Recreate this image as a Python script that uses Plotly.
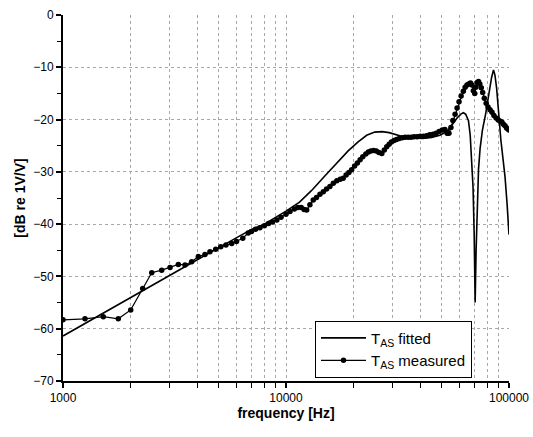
import plotly.graph_objects as go

# Fitted transfer function T_AS (frequency in Hz, level in dB re 1V/V)
fit_freq = [1000, 1500, 2000, 2500, 3000, 4000, 5000, 6000, 7000, 8000, 9000,
            10000, 11500, 13000, 15000, 17000, 19000, 21000, 23000, 25000, 27000,
            29000, 31000, 33500, 37000, 41000, 45000, 49000, 53000, 56000, 58500,
            61000, 62500, 64000, 65800, 67000, 68000, 69000, 69800, 70500, 71200,
            72000, 73000, 74200, 76000, 78500, 81000, 83500, 85200, 86500, 88000,
            90000, 92000, 94000, 96000, 98000, 100000]
fit_db = [-61.4, -57.1, -54.1, -51.8, -49.9, -46.8, -44.5, -42.6, -41.0, -40.0, -38.7,
          -37.5, -35.8, -33.6, -30.7, -28.2, -26.0, -24.3, -23.0, -22.4, -22.3,
          -22.5, -22.9, -23.3, -23.5, -23.6, -23.4, -23.0, -22.2, -20.8, -19.7,
          -18.9, -18.7, -19.0, -20.2, -23.0, -27.0, -33.0, -42.0, -55.0, -45.0,
          -35.0, -29.5, -25.5, -22.0, -19.0, -15.0, -12.0, -10.5, -11.5, -14.0,
          -19.5, -24.0, -27.5, -31.0, -36.0, -42.0]

# Measured transfer function T_AS
meas_freq = [1000, 1255, 1516, 1770, 2012, 2277, 2500, 2770, 3020, 3290, 3525, 3775,
             4045, 4330, 4560, 4840, 5100, 5380, 5710, 6000, 6400, 6770,
             7000, 7300, 7640, 8000, 8350, 8700, 9100, 9500, 10000, 10420, 10900,
             11300, 11700, 12050, 12380, 12800, 13250, 13700, 14200, 14700, 15200,
             15740, 16300, 16900, 17500, 18050, 18600, 19150, 19700, 20300, 20900,
             21500, 22100, 22800, 23400, 24000, 24700, 25400, 26100, 26900, 27600,
             28300, 29000, 29700, 30500, 31300, 32200, 33200, 34200, 35300, 36400,
             37500, 38700, 40000, 41300, 42700, 44100, 45600, 47100, 48600, 50200,
             51600, 52800, 53800, 54900, 56000, 57300, 58500, 59700, 61000, 62400,
             63600, 64800, 66000, 67200, 68200, 69200, 70200, 71000, 72000, 73000,
             74000, 75100, 76200, 77500, 79000, 80500, 82200, 83900, 85600, 87500,
             89500, 91400, 93000, 94400, 96000, 97500, 99000, 100000]
meas_db = [-58.3, -58.1, -57.7, -58.1, -56.4, -52.3, -49.3, -48.8, -48.3, -47.7, -47.8, -47.2,
           -46.2, -45.8, -45.3, -44.8, -44.3, -44.0, -43.7, -43.3, -42.7, -41.7,
           -41.4, -41.0, -40.7, -40.3, -39.9, -39.6, -39.2, -38.7, -38.1, -37.6, -37.1,
           -36.8, -36.8, -37.2, -37.3, -36.3, -35.4, -34.9, -34.3, -33.8, -33.3,
           -32.8, -32.2, -31.7, -31.4, -31.2, -30.6, -30.1, -29.6, -28.9, -28.3,
           -27.7, -27.1, -26.6, -26.2, -26.0, -25.9, -26.0, -26.3, -26.5, -25.8,
           -25.2, -24.7, -24.3, -24.0, -23.8, -23.6, -23.5, -23.4, -23.4, -23.4,
           -23.3, -23.3, -23.2, -23.2, -23.1, -22.9, -22.8, -22.6, -22.3, -22.0,
           -21.9, -22.6, -22.6, -21.5, -20.2, -19.0, -17.8, -16.6, -15.5, -14.6,
           -13.8, -13.4, -13.2, -13.0, -13.4, -14.5, -15.0, -13.8, -12.9, -12.7,
           -13.2, -13.9, -14.8, -15.9, -16.9, -17.6, -18.1, -18.6, -19.2, -19.7,
           -20.1, -20.3, -20.5, -20.9, -21.2, -21.6, -21.8, -22.0]

x_tickvals = [1000, 10000, 100000]
x_ticktext = ["1000", "10000", "100000"]

font_family = "Liberation Sans, Arial, sans-serif"

fig = go.Figure()
fig.add_trace(go.Scatter(
    x=fit_freq, y=fit_db, mode="lines", name="T<sub>AS</sub> fitted",
    line=dict(color="black", width=1.6),
))
fig.add_trace(go.Scatter(
    x=meas_freq, y=meas_db, mode="lines+markers", name="T<sub>AS</sub> measured",
    line=dict(color="black", width=1.2),
    marker=dict(symbol="circle", size=5.5, color="black"),
))

grid = dict(showgrid=True, gridcolor="#a8a8a8", gridwidth=1, griddash="dot")

fig.update_layout(
    width=533, height=437,
    margin=dict(l=63, r=24, t=15, b=56, autoexpand=False),
    paper_bgcolor="white", plot_bgcolor="white",
    font=dict(family=font_family, size=12, color="black"),
    showlegend=True,
    legend=dict(
        x=0.565, y=0.165, xanchor="left", yanchor="top",
        bgcolor="white", bordercolor="black", borderwidth=1,
        font=dict(size=15, color="black"),
        tracegroupgap=0, itemwidth=45,
    ),
    xaxis=dict(
        type="log", range=[3, 5], automargin=False,
        tickvals=x_tickvals, ticktext=x_ticktext,
        ticks="outside", ticklen=5, tickwidth=1.5, tickcolor="black",
        showline=True, linecolor="black", linewidth=2,
        zeroline=False,
        minor=dict(ticks="outside", ticklen=5, tickwidth=1.2, tickcolor="black",
                   dtick="D1", **grid),
        **grid,
        title=dict(text="frequency [Hz]", standoff=0,
                   font=dict(size=14, weight="bold")),
    ),
    yaxis=dict(
        range=[-70, 0], dtick=10, automargin=False,
        ticks="outside", ticklen=5, tickwidth=1.5, tickcolor="black",
        showline=True, linecolor="black", linewidth=2,
        zeroline=False,
        minor=dict(ticks="outside", ticklen=4, tickwidth=1.2, tickcolor="black",
                   dtick=5, showgrid=False),
        **grid,
        title=dict(text="[dB re 1V/V]", standoff=4,
                   font=dict(size=14, weight="bold")),
    ),
)

fig.write_html("out.html")
